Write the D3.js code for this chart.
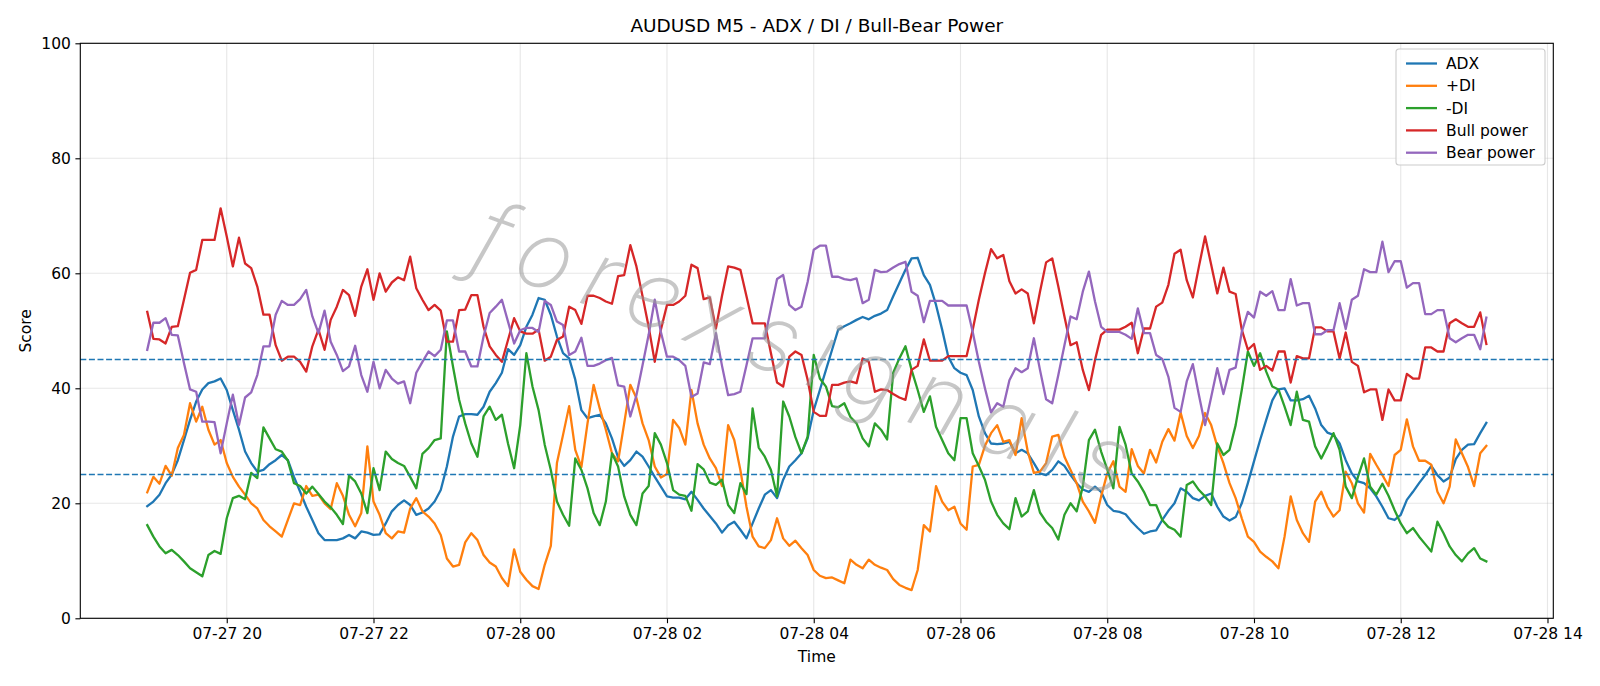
<!doctype html>
<html>
<head>
<meta charset="utf-8">
<script src="https://d3js.org/d3.v7.min.js"></script>
<style>
  body { margin: 0; background: #fff; }
  svg text { font-family: "DejaVu Sans", sans-serif; }
</style>
</head>
<body>
<svg id="chart" width="1600" height="686"></svg>
<script>
// 5-minute bars, first one at 07-27 18:55 (UTC used so the axis does not shift)
var startTime = Date.UTC(2025, 6, 27, 18, 55);
var stepMinutes = 5;

var adx = [
  19.5, 20.3, 21.5, 23.5, 25.0, 27.5, 31.0, 34.5, 37.7, 39.8, 40.9, 41.2, 41.7, 39.7, 36.2, 32.8, 29.0, 27.0, 25.5,
  25.8, 26.8, 27.5, 28.4, 27.5, 24.6, 22.0, 19.4, 17.1, 14.8, 13.6, 13.6, 13.6, 13.9, 14.5, 13.9, 15.1, 14.9, 14.5,
  14.6, 16.5, 18.6, 19.7, 20.5, 19.7, 18.0, 18.4, 19.1, 20.3, 22.3, 26.4, 31.6, 35.1, 35.5, 35.5, 35.4, 36.8, 39.4,
  40.9, 42.7, 46.8, 45.8, 47.5, 50.7, 52.8, 55.7, 55.4, 52.8, 49.0, 46.1, 45.2, 41.5, 36.2, 34.8, 35.1, 35.4, 33.9, 31.3,
  28.0, 26.5, 27.5, 29.0, 28.1, 26.4, 24.6, 22.9, 21.2, 21.0, 21.0, 20.7, 22.0, 20.6, 19.1, 17.8, 16.5, 14.9, 16.2,
  16.8, 15.4, 13.9, 16.5, 19.1, 21.5, 22.3, 20.9, 24.1, 26.4, 27.5, 28.7, 31.3, 36.2, 39.7, 43.2, 46.7, 50.2, 50.8,
  51.3, 51.9, 52.4, 52.0, 52.6, 53.0, 53.6, 56.0, 58.3, 60.6, 62.6, 62.7, 59.7, 58.0, 54.5, 50.2, 45.5, 43.5, 42.7,
  42.3, 39.7, 35.1, 32.2, 30.4, 30.3, 30.4, 30.7, 28.7, 29.3, 28.7, 27.0, 25.2, 24.9, 25.8, 27.3, 26.5, 24.9, 23.5, 22.4,
  22.0, 22.9, 22.0, 19.7, 18.7, 18.5, 18.1, 16.8, 15.7, 14.7, 15.1, 15.3, 17.1, 18.7, 20.0, 22.6, 22.0, 20.9, 20.5,
  21.3, 21.7, 19.4, 17.7, 17.0, 17.6, 20.0, 23.5, 27.3, 31.0, 34.5, 37.9, 39.8, 40.0, 37.9, 37.9, 38.1, 38.7, 36.5,
  33.6, 32.3, 31.9, 30.4, 27.5, 25.2, 23.8, 23.5, 22.6, 21.2, 19.4, 17.4, 17.1, 18.0, 20.6, 22.0, 23.5, 24.9, 26.5, 24.9,
  23.8, 24.5, 27.7, 29.3, 30.2, 30.3, 32.2, 34.0
];

var plusDI = [
  21.9, 24.6, 23.4, 26.5, 24.8, 29.6, 31.9, 37.4, 34.2, 36.8, 32.8, 30.2, 31.0, 27.0, 24.6, 22.9, 21.5, 20.0, 19.1,
  17.1, 16.0, 15.1, 14.2, 17.1, 20.0, 19.7, 23.0, 21.3, 21.5, 20.0, 19.0, 23.5, 21.3, 18.0, 16.0, 18.3, 29.9, 20.3,
  18.0, 14.8, 13.9, 15.1, 14.9, 19.1, 20.9, 18.6, 17.7, 16.5, 14.5, 10.4, 9.0, 9.3, 13.2, 14.8, 13.6, 11.0, 9.7,
  9.0, 7.0, 5.6, 12.0, 8.1, 6.7, 5.6, 5.1, 9.3, 12.6, 27.0, 31.9, 36.9, 29.3, 26.3, 33.9, 40.6, 36.5, 32.8, 28.7,
  27.3, 33.9, 40.6, 38.3, 33.9, 31.0, 26.4, 24.5, 25.1, 34.5, 33.1, 30.2, 39.7, 33.9, 30.2, 27.8, 26.1, 23.0, 33.6,
  31.0, 25.8, 19.4, 14.2, 12.5, 12.2, 13.6, 17.4, 13.9, 12.6, 13.5, 12.2, 11.0, 8.4, 7.4, 7.0, 7.1, 6.6, 6.1,
  10.2, 9.3, 8.7, 10.2, 9.3, 8.8, 8.4, 6.8, 5.8, 5.3, 4.9, 8.4, 16.2, 15.1, 23.0, 20.3, 18.8, 19.4, 16.5,
  15.4, 26.4, 26.7, 30.0, 32.2, 33.6, 30.7, 31.0, 28.4, 34.8, 29.0, 25.3, 25.5, 27.0, 31.6, 31.9, 28.1, 25.8, 23.5, 20.3,
  18.6, 16.6, 21.2, 25.2, 27.3, 22.9, 22.0, 29.4, 26.5, 25.2, 29.3, 27.1, 30.7, 32.9, 30.9, 35.8, 31.7, 29.6, 31.7,
  35.7, 33.6, 29.9, 27.0, 23.5, 20.9, 17.4, 14.2, 13.3, 11.6, 10.7, 9.9, 8.7, 14.2, 21.2, 17.1, 14.8, 13.3, 20.3,
  22.0, 19.4, 17.7, 18.8, 25.5, 23.5, 20.0, 18.4, 28.6, 26.7, 24.9, 23.0, 28.4, 29.3, 34.6, 29.9, 27.4, 27.4, 26.7, 22.0,
  20.0, 22.9, 31.1, 28.7, 26.3, 23.0, 28.7, 30.0
];

var minusDI = [
  16.2, 14.2, 12.5, 11.3, 11.9, 11.0, 9.9, 8.7, 8.0, 7.3, 11.0, 11.7, 11.2, 17.4, 20.9, 21.3, 20.7, 25.3, 24.4,
  33.2, 31.3, 29.4, 29.0, 27.4, 23.5, 23.0, 21.7, 22.9, 21.6, 20.3, 19.3, 18.0, 16.4, 24.8, 23.8, 21.7, 18.3, 26.1,
  22.3, 29.0, 27.7, 27.0, 26.5, 24.6, 22.6, 28.6, 29.6, 31.0, 31.3, 49.9, 43.8, 38.0, 33.9, 30.4, 28.1, 35.1, 36.8,
  34.5, 35.4, 30.4, 26.1, 33.6, 46.1, 40.3, 36.2, 30.2, 25.8, 20.3, 18.0, 16.1, 27.8, 25.8, 22.6, 18.3, 16.2, 20.3, 28.7,
  26.4, 21.2, 18.0, 16.2, 21.7, 23.0, 32.2, 30.2, 27.0, 22.3, 21.5, 21.3, 18.7, 26.8, 25.9, 23.6, 23.2, 24.1, 19.7,
  18.3, 23.5, 21.6, 36.5, 29.7, 28.1, 25.8, 21.2, 37.7, 35.1, 31.5, 28.7, 31.6, 45.8, 41.7, 40.3, 36.9, 36.7, 37.4,
  35.0, 33.9, 31.3, 29.9, 33.9, 32.8, 31.1, 42.7, 45.2, 47.3, 43.2, 39.7, 35.9, 38.6, 33.3, 31.0, 28.7, 27.5, 34.8,
  34.8, 28.7, 26.5, 24.1, 20.3, 18.0, 16.5, 15.5, 20.9, 17.7, 18.6, 22.3, 18.4, 16.8, 15.7, 13.7, 18.0, 20.0, 18.6, 22.9,
  31.0, 32.8, 29.0, 25.9, 22.6, 33.3, 30.2, 25.2, 23.8, 22.0, 19.7, 19.7, 17.1, 15.9, 15.4, 14.2, 23.2, 23.8, 22.3,
  21.2, 19.7, 30.4, 28.4, 29.3, 33.6, 39.7, 46.4, 43.9, 46.1, 42.9, 40.3, 39.8, 36.8, 33.6, 39.4, 34.5, 34.2, 29.9,
  27.8, 29.9, 32.2, 29.3, 22.9, 20.9, 24.6, 27.8, 22.9, 21.5, 23.4, 21.3, 18.8, 16.5, 14.8, 15.7, 14.2, 12.9, 11.6, 16.8,
  14.8, 12.5, 11.0, 9.9, 11.3, 12.2, 10.4, 9.9
];

var bullPower = [
  53.3, 48.6, 48.5, 47.8, 50.7, 50.8, 55.4, 60.1, 60.6, 65.8, 65.8, 65.8, 71.3, 66.4, 61.2, 66.2, 61.7, 60.9, 57.7,
  52.8, 52.8, 47.5, 44.8, 45.5, 45.5, 44.6, 42.9, 47.3, 50.2, 46.7, 51.9, 54.2, 57.1, 56.2, 52.6, 57.7, 60.7, 55.4,
  60.0, 56.8, 58.4, 59.3, 58.8, 62.9, 57.4, 55.4, 53.6, 54.5, 53.5, 48.1, 48.1, 53.6, 53.7, 56.2, 56.2, 50.7, 47.3,
  45.8, 44.6, 48.4, 52.2, 49.9, 49.5, 49.5, 50.2, 44.8, 45.5, 48.4, 49.0, 54.2, 53.6, 51.2, 56.1, 56.1, 55.7, 55.1, 54.7,
  59.5, 59.7, 64.9, 61.2, 56.0, 50.7, 44.6, 50.2, 54.5, 54.5, 55.1, 56.1, 61.5, 60.9, 55.5, 55.8, 50.4, 56.1, 61.2,
  61.0, 60.6, 56.0, 51.3, 51.3, 51.3, 46.1, 41.0, 40.3, 45.5, 46.4, 45.8, 41.5, 35.9, 35.2, 35.2, 40.6, 40.6, 41.0,
  41.2, 40.9, 45.2, 44.6, 39.4, 39.8, 39.7, 39.0, 38.4, 38.0, 43.2, 43.9, 48.5, 44.8, 44.8, 44.8, 45.6, 45.6, 45.6,
  45.6, 50.2, 55.4, 60.0, 64.2, 62.6, 63.2, 58.6, 56.5, 57.2, 56.5, 51.3, 56.8, 61.9, 62.6, 57.7, 52.5, 47.5, 48.0, 43.2,
  39.7, 44.9, 49.3, 50.2, 50.2, 50.2, 50.7, 51.4, 46.1, 50.4, 50.4, 54.2, 54.9, 58.0, 63.4, 64.1, 58.8, 55.8, 61.2,
  66.4, 61.5, 56.5, 61.0, 56.8, 56.4, 50.2, 46.7, 47.7, 43.2, 43.9, 43.1, 46.4, 46.4, 41.0, 45.6, 45.2, 45.2, 50.6,
  50.6, 49.9, 49.9, 45.2, 49.7, 44.6, 43.9, 39.3, 39.8, 39.8, 34.5, 39.8, 37.9, 37.9, 42.5, 41.7, 41.7, 47.1, 47.1, 46.4,
  46.4, 51.3, 52.0, 51.3, 50.7, 50.7, 53.2, 47.7
];

var bearPower = [
  46.7, 51.4, 51.4, 52.2, 49.3, 49.2, 44.4, 39.8, 39.4, 34.2, 34.2, 34.1, 28.7, 33.9, 38.9, 33.6, 38.4, 39.3, 42.3,
  47.3, 47.3, 52.8, 55.2, 54.5, 54.5, 55.5, 57.1, 52.5, 49.6, 53.5, 48.1, 45.8, 43.0, 43.8, 47.4, 42.3, 39.4, 44.6,
  40.0, 43.2, 41.7, 40.8, 41.2, 37.4, 42.7, 44.6, 46.4, 45.6, 46.7, 51.8, 51.8, 46.4, 46.4, 43.8, 43.8, 49.0, 53.1,
  54.2, 55.4, 51.6, 47.8, 50.1, 50.5, 50.5, 49.8, 55.2, 54.5, 51.6, 51.0, 45.8, 46.4, 48.8, 43.9, 43.9, 44.3, 44.9, 45.3,
  40.5, 40.3, 35.1, 38.8, 44.0, 49.3, 55.4, 49.8, 45.5, 45.5, 44.9, 43.9, 38.5, 39.1, 44.5, 44.2, 49.6, 43.9, 38.8,
  39.0, 39.4, 44.0, 48.7, 48.7, 48.7, 53.9, 59.0, 59.7, 54.5, 53.6, 54.2, 58.5, 64.1, 64.8, 64.8, 59.4, 59.4, 59.0,
  58.8, 59.1, 54.8, 55.4, 60.6, 60.2, 60.3, 61.0, 61.6, 62.0, 56.8, 56.1, 51.5, 55.2, 55.2, 55.2, 54.4, 54.4, 54.4,
  54.4, 49.8, 44.6, 40.0, 35.8, 37.4, 36.8, 41.4, 43.5, 42.8, 43.5, 48.7, 43.2, 38.1, 37.4, 42.3, 47.5, 52.5, 52.0, 56.8,
  60.3, 55.1, 50.7, 49.8, 49.8, 49.8, 49.3, 48.6, 53.9, 49.6, 49.6, 45.8, 45.1, 42.0, 36.6, 35.9, 41.2, 44.2, 38.8,
  33.6, 38.5, 43.5, 39.0, 43.2, 43.6, 49.8, 53.3, 52.3, 56.8, 56.1, 56.9, 53.6, 53.6, 59.0, 54.4, 54.8, 54.8, 49.4,
  49.4, 50.1, 50.1, 54.8, 50.3, 55.4, 56.1, 60.7, 60.2, 60.2, 65.5, 60.2, 62.1, 62.1, 57.5, 58.3, 58.3, 52.9, 52.9, 53.6,
  53.6, 48.7, 48.0, 48.7, 49.3, 49.3, 46.8, 52.3
];

var seriesNames = ["ADX", "+DI", "-DI", "Bull power", "Bear power"];
var seriesColors = ["#1f77b4", "#ff7f0e", "#2ca02c", "#d62728", "#9467bd"];
var levels = [25, 45];
var yTicks = [0, 20, 40, 60, 80, 100];
var watermark = "forexsignals";

var times = adx.map(function(d, i) { return new Date(startTime + i * stepMinutes * 60000); });
var allSeries = [adx, plusDI, minusDI, bullPower, bearPower];

var svg = d3.select("#chart");
var W = 1600, H = 686;
var margin = {left: 80.3, right: W - 1553.3, top: 43.3, bottom: H - 618.3};
var pw = W - margin.left - margin.right, ph = H - margin.top - margin.bottom;

svg.append("rect").attr("width", W).attr("height", H).attr("fill", "#fff");

// matplotlib style 5% x margins
var t0 = +times[0], t1 = +times[times.length - 1], pad = (t1 - t0) * 0.05;
var x = d3.scaleUtc().domain([new Date(t0 - pad), new Date(t1 + pad)]).range([0, pw]);
var y = d3.scaleLinear().domain([0, 100]).range([ph, 0]);

var g = svg.append("g").attr("transform", "translate(" + margin.left + "," + margin.top + ")");

var xTicks = d3.utcHour.every(2).range(new Date(t0 - pad), new Date(t1 + pad + 1));
var fmt = d3.utcFormat("%m-%d %H");

// grid
g.append("g").selectAll("line").data(xTicks).enter().append("line")
  .attr("x1", function(d) { return x(d); }).attr("x2", function(d) { return x(d); })
  .attr("y1", 0).attr("y2", ph)
  .attr("stroke", "#b0b0b0").attr("stroke-opacity", 0.3).attr("stroke-width", 1.1);
g.append("g").selectAll("line").data(yTicks).enter().append("line")
  .attr("x1", 0).attr("x2", pw)
  .attr("y1", function(d) { return y(d); }).attr("y2", function(d) { return y(d); })
  .attr("stroke", "#b0b0b0").attr("stroke-opacity", 0.3).attr("stroke-width", 1.1);

// series
var line = d3.line()
  .x(function(d, i) { return x(times[i]); })
  .y(function(d) { return y(d); });

allSeries.forEach(function(s, k) {
  g.append("path").datum(s)
    .attr("fill", "none")
    .attr("stroke", seriesColors[k])
    .attr("stroke-width", 2.3)
    .attr("stroke-linejoin", "round")
    .attr("stroke-linecap", "square")
    .attr("d", line);
});

// reference levels
g.append("g").selectAll("line").data(levels).enter().append("line")
  .attr("x1", 0).attr("x2", pw)
  .attr("y1", function(d) { return y(d); }).attr("y2", function(d) { return y(d); })
  .attr("stroke", "#1f77b4").attr("stroke-width", 1.6)
  .attr("stroke-dasharray", "6,2.6");

// watermark, thin and light across the middle
g.append("text")
  .attr("transform", "translate(" + (468 - margin.left) + "," + (262 - margin.top) + ") rotate(20)")
  .attr("textLength", 690)
  .attr("lengthAdjust", "spacing")
  .style("font-family", "Inter, Lato, 'DejaVu Sans', sans-serif")
  .style("font-size", "94px")
  .style("font-weight", 200)
  .style("font-style", "italic")
  .style("fill", "#999999")
  .style("fill-opacity", 0.55)
  .text(watermark);

// axes
var xAxis = d3.axisBottom(x).tickValues(xTicks).tickFormat(fmt).tickSize(4.9).tickPadding(4.5);
var yAxis = d3.axisLeft(y).tickValues(yTicks).tickSize(4.9).tickPadding(4.5);

var gx = g.append("g").attr("transform", "translate(0," + ph + ")").call(xAxis);
var gy = g.append("g").call(yAxis);
[gx, gy].forEach(function(a) {
  a.select(".domain").remove();
  a.selectAll("line").attr("stroke", "#000").attr("stroke-width", 1.1);
  a.selectAll("text").attr("font-size", 15.5).attr("font-family", "DejaVu Sans").attr("fill", "#000");
});

g.append("rect").attr("width", pw).attr("height", ph)
  .attr("fill", "none").attr("stroke", "#000").attr("stroke-width", 1.1);

// labels
svg.append("text").attr("x", margin.left + pw / 2).attr("y", 32)
  .attr("text-anchor", "middle").attr("font-size", 18.5).attr("fill", "#000")
  .text("AUDUSD M5 - ADX / DI / Bull-Bear Power");
svg.append("text").attr("x", margin.left + pw / 2).attr("y", 662)
  .attr("text-anchor", "middle").attr("font-size", 15.5).attr("fill", "#000").text("Time");
svg.append("text").attr("transform", "translate(31," + (margin.top + ph / 2) + ") rotate(-90)")
  .attr("text-anchor", "middle").attr("font-size", 15.5).attr("fill", "#000").text("Score");

// legend
var lg = svg.append("g").attr("transform", "translate(1396,49)");
lg.append("rect").attr("width", 149).attr("height", 116).attr("rx", 3)
  .attr("fill", "#fff").attr("fill-opacity", 0.8)
  .attr("stroke", "#cccccc").attr("stroke-width", 1.1);
seriesNames.forEach(function(n, k) {
  var yy = 14.5 + k * 22.3;
  lg.append("line").attr("x1", 10).attr("x2", 41).attr("y1", yy).attr("y2", yy)
    .attr("stroke", seriesColors[k]).attr("stroke-width", 2.3);
  lg.append("text").attr("x", 50).attr("y", yy + 5.5).attr("font-size", 15.5).attr("fill", "#000").text(n);
});
</script>
</body>
</html>
